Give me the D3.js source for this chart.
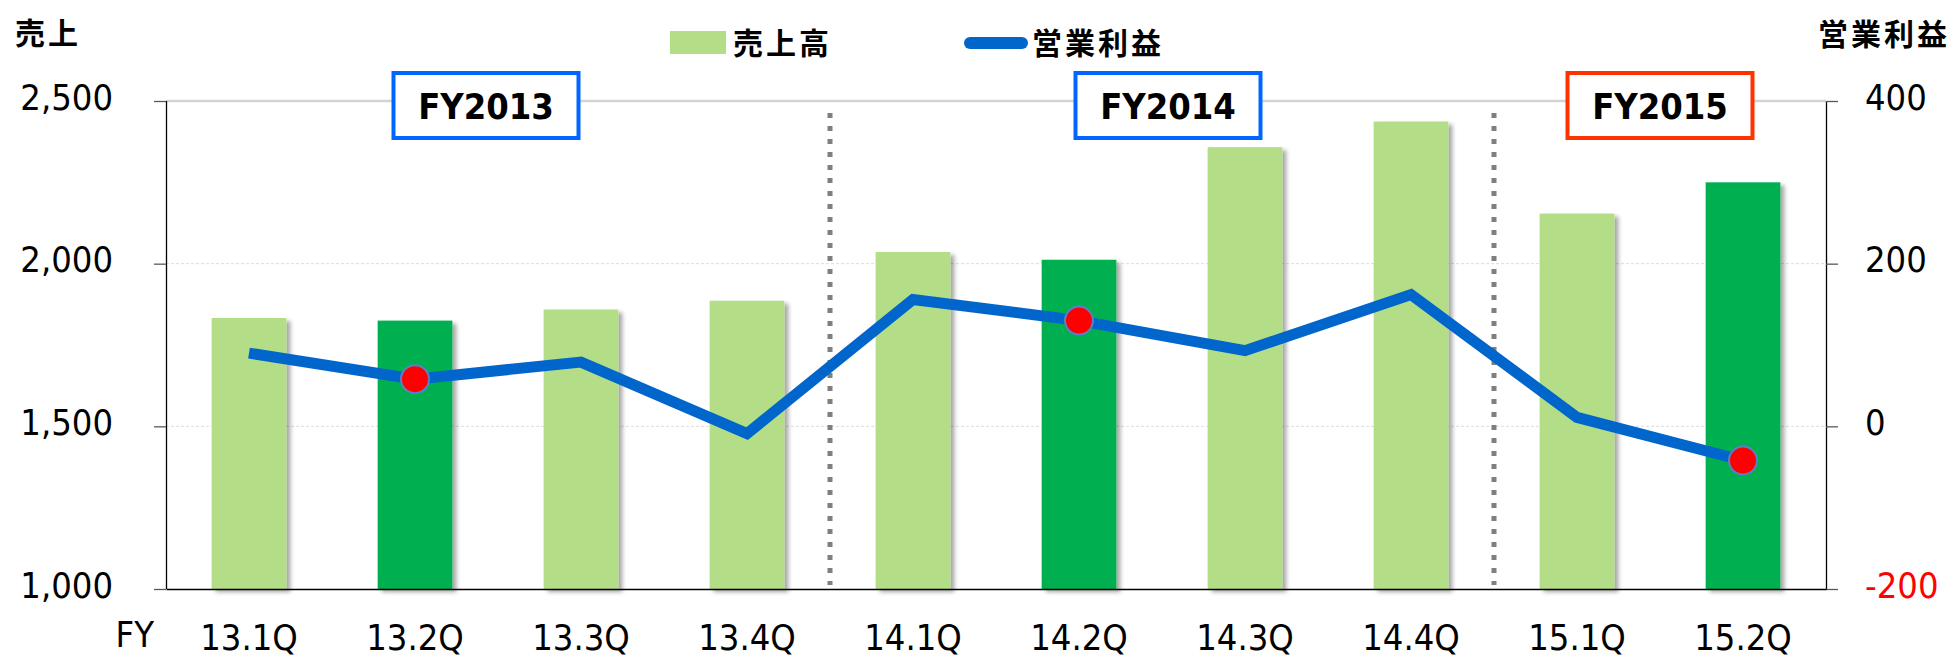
<!DOCTYPE html>
<html>
<head>
<meta charset="utf-8">
<script src="https://cdn.jsdelivr.net/npm/d3@7"></script>
<style>
  body { margin: 0; background: #fff; }
  svg { display: block; }
  .num { font-family: "DejaVu Sans Condensed", "DejaVu Sans", sans-serif; font-stretch: condensed; }
  .jp { font-family: "Noto Sans CJK JP", sans-serif; font-weight: bold; }
</style>
</head>
<body>
<div id="chart"></div>
<script>
// data
const categories = ["13.1Q","13.2Q","13.3Q","13.4Q","14.1Q","14.2Q","14.3Q","14.4Q","15.1Q","15.2Q"];
const sales = [1833, 1825, 1859, 1886, 2036, 2012, 2358, 2437, 2154, 2250];
const profit = [90, 58, 79, -9, 156, 130, 93, 162, 11, -42];
const highlight = [false, true, false, false, false, true, false, false, false, true];
const leftTicks = [1000, 1500, 2000, 2500];
const rightTicks = [-200, 0, 200, 400];
const fyLabels = ["FY2013", "FY2014", "FY2015"];
const fyBetween = [["13.2Q","13.3Q"], ["14.2Q","14.3Q"], ["15.1Q","15.2Q"]];
const fyColors = ["#0066FF", "#0066FF", "#FF3300"];
const dividers = [["13.4Q","14.1Q"], ["14.4Q","15.1Q"]];

const width = 1957, height = 657;
const plotLeft = 166, plotRight = 1826, plotTop = 101, plotBottom = 589;
const fyNudge = [-12, 6, 0]; // small layout shifts of the FY boxes

const svg = d3.select("#chart").append("svg")
    .attr("width", width)
    .attr("height", height);

const defs = svg.append("defs");
defs.append("filter").attr("id", "shadow")
    .attr("x", "-20%").attr("y", "-5%").attr("width", "150%").attr("height", "115%")
  .append("feDropShadow")
    .attr("dx", 4).attr("dy", 3).attr("stdDeviation", 2)
    .attr("flood-color", "#000").attr("flood-opacity", 0.35);

// scales
let x = d3.scaleBand()
    .domain(categories)
    .range([plotLeft, plotRight])
    .paddingInner(0.55)
    .paddingOuter(0.275);

let yL = d3.scaleLinear().domain([1000, 2500]).range([plotBottom, plotTop]);
let yR = d3.scaleLinear().domain([-200, 400]).range([plotBottom, plotTop]);

const cx = d => x(d) + x.bandwidth() / 2;

// gridlines
svg.append("g").selectAll("line")
    .data(leftTicks.filter(d => d > 1000))
    .enter().append("line")
    .attr("x1", plotLeft).attr("x2", plotRight)
    .attr("y1", d => yL(d)).attr("y2", d => yL(d))
    .attr("stroke", d => d === 2500 ? "#D4D4D4" : "#DCDCDC")
    .attr("stroke-width", d => d === 2500 ? 2.5 : 1)
    .attr("stroke-dasharray", d => d === 2500 ? null : "3,2");

// bars
svg.append("g").selectAll("rect")
    .data(sales)
    .enter().append("rect")
    .attr("x", (d, i) => x(categories[i]))
    .attr("width", x.bandwidth())
    .attr("y", d => yL(d))
    .attr("height", d => yL(1000) - yL(d))
    .attr("fill", (d, i) => highlight[i] ? "#00AF50" : "#B4DD87")
    .attr("filter", "url(#shadow)");

// dotted year dividers
svg.append("g").selectAll("line")
    .data(dividers)
    .enter().append("line")
    .attr("x1", d => (cx(d[0]) + cx(d[1])) / 2)
    .attr("x2", d => (cx(d[0]) + cx(d[1])) / 2)
    .attr("y1", 113).attr("y2", 585)
    .attr("stroke", "#7F7F7F")
    .attr("stroke-width", 5)
    .attr("stroke-dasharray", "5,8");

// axes
let yAxisL = d3.axisLeft(yL).tickValues(leftTicks).tickFormat(d3.format(",")).tickSize(12).tickPadding(41);
let yAxisR = d3.axisRight(yR).tickValues(rightTicks).tickFormat(d => String(d)).tickSize(12).tickPadding(27);
let xAxis = d3.axisBottom(x).tickSize(0).tickPadding(35);

const gL = svg.append("g").attr("class", "num").attr("transform", "translate(" + plotLeft + ",0)").call(yAxisL);
const gR = svg.append("g").attr("class", "num").attr("transform", "translate(" + plotRight + ",0)").call(yAxisR);
const gX = svg.append("g").attr("class", "num").attr("transform", "translate(0," + plotBottom + ")").call(xAxis);

[gL, gR, gX].forEach(g => {
  g.attr("font-size", null).attr("font-family", null);
  g.select(".domain").attr("stroke", "#000").attr("stroke-width", 1.3);
  g.selectAll(".tick line").attr("stroke", "#595959").attr("stroke-width", 1.3);
  g.selectAll("text").attr("font-size", 36).attr("fill", "#000");
});
gL.select(".domain").attr("d", "M0.5," + plotTop + "V" + plotBottom);
gR.select(".domain").attr("d", "M0.5," + plotTop + "V" + plotBottom);
gL.selectAll("text").attr("dy", 8);
gR.selectAll("text").attr("dy", 8).attr("fill", d => d < 0 ? "#FF0000" : "#000");

svg.append("text").attr("class", "num")
    .attr("x", 154).attr("y", 647)
    .attr("text-anchor", "end")
    .attr("font-size", 36)
    .text("FY");

// operating profit line
let line = d3.line()
    .x((d, i) => cx(categories[i]))
    .y(d => yR(d));

svg.append("path")
    .datum(profit)
    .attr("d", line)
    .attr("fill", "none")
    .attr("stroke", "#0066CC")
    .attr("stroke-width", 11)
    .attr("stroke-linejoin", "miter");

svg.append("g").selectAll("circle")
    .data(profit.map((v, i) => ({v: v, i: i})).filter(d => highlight[d.i]))
    .enter().append("circle")
    .attr("cx", d => cx(categories[d.i]))
    .attr("cy", d => yR(d.v))
    .attr("r", 14)
    .attr("fill", "#FF0000")
    .attr("stroke", "#5B7FC7")
    .attr("stroke-width", 2);

// FY boxes
const boxW = 185, boxH = 65;
const fy = svg.append("g").selectAll("g")
    .data(fyLabels)
    .enter().append("g")
    .attr("transform", (d, i) => "translate(" + ((cx(fyBetween[i][0]) + cx(fyBetween[i][1])) / 2 - boxW / 2 + fyNudge[i]) + ",73)");
fy.append("rect")
    .attr("width", boxW).attr("height", boxH)
    .attr("fill", "#fff")
    .attr("stroke", (d, i) => fyColors[i])
    .attr("stroke-width", 4);
fy.append("text").attr("class", "num")
    .attr("x", boxW / 2).attr("y", boxH / 2 + 13)
    .attr("text-anchor", "middle")
    .attr("font-size", 36)
    .attr("font-weight", "bold")
    .text(d => d);

// titles and legend
svg.append("text").attr("class", "jp")
    .attr("x", 15).attr("y", 44)
    .attr("font-size", 30).attr("letter-spacing", 3)
    .text("売上");
svg.append("text").attr("class", "jp")
    .attr("x", 1818).attr("y", 45)
    .attr("font-size", 30).attr("letter-spacing", 3)
    .text("営業利益");

svg.append("rect")
    .attr("x", 670).attr("y", 31).attr("width", 56).attr("height", 23)
    .attr("fill", "#B4DD87");
svg.append("text").attr("class", "jp")
    .attr("x", 733).attr("y", 54)
    .attr("font-size", 30).attr("letter-spacing", 3)
    .text("売上高");
svg.append("line")
    .attr("x1", 970).attr("x2", 1022).attr("y1", 43).attr("y2", 43)
    .attr("stroke", "#0066CC").attr("stroke-width", 12)
    .attr("stroke-linecap", "round");
svg.append("text").attr("class", "jp")
    .attr("x", 1032).attr("y", 54)
    .attr("font-size", 30).attr("letter-spacing", 3)
    .text("営業利益");
</script>
</body>
</html>
